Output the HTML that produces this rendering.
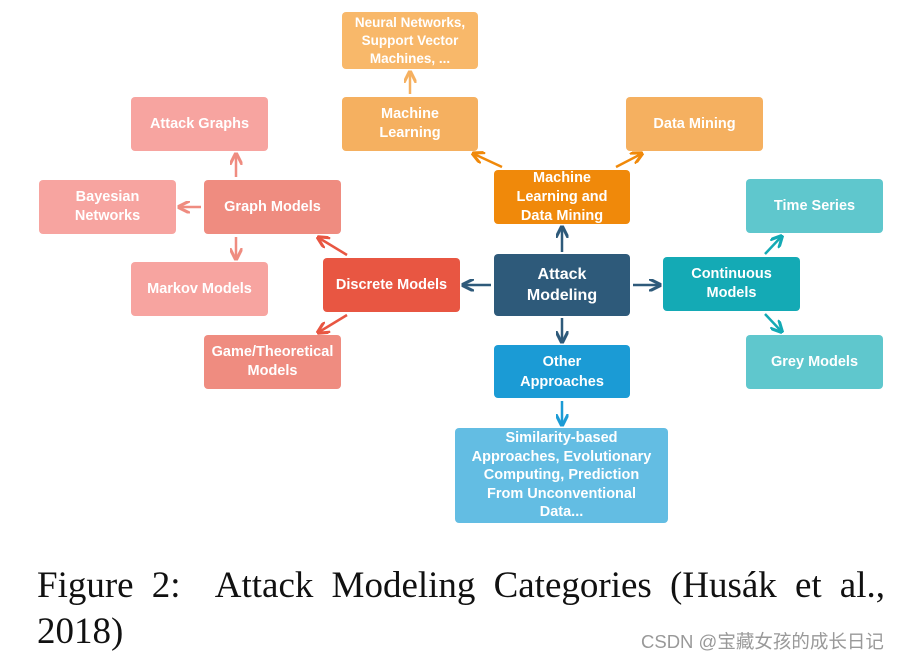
<!DOCTYPE html><html><head><style>
body{margin:0;width:908px;height:658px;background:#fff;position:relative;overflow:hidden;font-family:"Liberation Sans",Arial,sans-serif}
.b{position:absolute;border-radius:4px;color:#fff;font-weight:bold;font-size:14.5px;line-height:19px;display:flex;align-items:center;justify-content:center;text-align:center}
.cap{position:absolute;left:37px;font-family:"Liberation Serif",serif;font-size:37px;color:#111;white-space:nowrap}
</style></head><body>
<svg width="908" height="560" style="position:absolute;left:0;top:0">
<defs>
<marker id="o" viewBox="0 0 10 10" refX="8" refY="5" markerWidth="5" markerHeight="5" orient="auto"><path d="M0,0L10,5L0,10" fill="none" stroke="#f0890a" stroke-width="2.5"/></marker>
<marker id="lo" viewBox="0 0 10 10" refX="8" refY="5" markerWidth="5" markerHeight="5" orient="auto"><path d="M0,0L10,5L0,10" fill="none" stroke="#f5b060" stroke-width="2.5"/></marker>
<marker id="d" viewBox="0 0 10 10" refX="8" refY="5" markerWidth="5" markerHeight="5" orient="auto"><path d="M0,0L10,5L0,10" fill="none" stroke="#2e5a7a" stroke-width="2.5"/></marker>
<marker id="r" viewBox="0 0 10 10" refX="8" refY="5" markerWidth="5" markerHeight="5" orient="auto"><path d="M0,0L10,5L0,10" fill="none" stroke="#e85642" stroke-width="2.5"/></marker>
<marker id="p" viewBox="0 0 10 10" refX="8" refY="5" markerWidth="5" markerHeight="5" orient="auto"><path d="M0,0L10,5L0,10" fill="none" stroke="#ef8c80" stroke-width="2.5"/></marker>
<marker id="t" viewBox="0 0 10 10" refX="8" refY="5" markerWidth="5" markerHeight="5" orient="auto"><path d="M0,0L10,5L0,10" fill="none" stroke="#14aab5" stroke-width="2.5"/></marker>
<marker id="bl" viewBox="0 0 10 10" refX="8" refY="5" markerWidth="5" markerHeight="5" orient="auto"><path d="M0,0L10,5L0,10" fill="none" stroke="#1b9bd5" stroke-width="2.5"/></marker>
</defs>
<g stroke-width="2.5" fill="none">
<line x1="562" y1="252" x2="562" y2="228" stroke="#2e5a7a" marker-end="url(#d)"/>
<line x1="562" y1="318" x2="562" y2="341" stroke="#2e5a7a" marker-end="url(#d)"/>
<line x1="491" y1="285" x2="464" y2="285" stroke="#2e5a7a" marker-end="url(#d)"/>
<line x1="633" y1="285" x2="659" y2="285" stroke="#2e5a7a" marker-end="url(#d)"/>
<line x1="502" y1="167" x2="474" y2="154" stroke="#f0890a" marker-end="url(#o)"/>
<line x1="616" y1="167" x2="641" y2="154" stroke="#f0890a" marker-end="url(#o)"/>
<line x1="410" y1="94" x2="410" y2="73" stroke="#f5b060" marker-end="url(#lo)"/>
<line x1="347" y1="255" x2="319" y2="238" stroke="#e85642" marker-end="url(#r)"/>
<line x1="347" y1="315" x2="319" y2="332" stroke="#e85642" marker-end="url(#r)"/>
<line x1="236" y1="177" x2="236" y2="155" stroke="#ef8c80" marker-end="url(#p)"/>
<line x1="236" y1="237" x2="236" y2="258" stroke="#ef8c80" marker-end="url(#p)"/>
<line x1="201" y1="207" x2="180" y2="207" stroke="#ef8c80" marker-end="url(#p)"/>
<line x1="765" y1="254" x2="781" y2="237" stroke="#14aab5" marker-end="url(#t)"/>
<line x1="765" y1="314" x2="781" y2="331" stroke="#14aab5" marker-end="url(#t)"/>
<line x1="562" y1="401" x2="562" y2="424" stroke="#1b9bd5" marker-end="url(#bl)"/>
</g></svg>
<div class="b" style="left:342px;top:12px;width:136px;height:57px;background:#f8b86a;font-size:13.5px;line-height:18px">Neural Networks,<br>Support Vector<br>Machines, ...</div>
<div class="b" style="left:342px;top:97px;width:136px;height:54px;background:#f5b060">Machine<br>Learning</div>
<div class="b" style="left:626px;top:97px;width:137px;height:54px;background:#f5b060">Data Mining</div>
<div class="b" style="left:494px;top:170px;width:136px;height:54px;background:#f0890a;line-height:19px">Machine<br>Learning and<br>Data Mining</div>
<div class="b" style="left:131px;top:97px;width:137px;height:54px;background:#f7a4a0">Attack Graphs</div>
<div class="b" style="left:39px;top:180px;width:137px;height:54px;background:#f7a4a0">Bayesian<br>Networks</div>
<div class="b" style="left:204px;top:180px;width:137px;height:54px;background:#ef8c80">Graph Models</div>
<div class="b" style="left:131px;top:262px;width:137px;height:54px;background:#f7a4a0">Markov Models</div>
<div class="b" style="left:323px;top:258px;width:137px;height:54px;background:#e85642">Discrete Models</div>
<div class="b" style="left:204px;top:335px;width:137px;height:54px;background:#ef8c80">Game/Theoretical<br>Models</div>
<div class="b" style="left:494px;top:254px;width:136px;height:62px;background:#2e5a7a;font-size:16px;line-height:21px">Attack<br>Modeling</div>
<div class="b" style="left:663px;top:257px;width:137px;height:54px;background:#14aab5">Continuous<br>Models</div>
<div class="b" style="left:746px;top:179px;width:137px;height:54px;background:#5fc7cd">Time Series</div>
<div class="b" style="left:746px;top:335px;width:137px;height:54px;background:#5fc7cd">Grey Models</div>
<div class="b" style="left:494px;top:345px;width:136px;height:53px;background:#1b9bd5;line-height:20px">Other<br>Approaches</div>
<div class="b" style="left:455px;top:428px;width:213px;height:95px;background:#63bde3;line-height:18.5px">Similarity-based<br>Approaches, Evolutionary<br>Computing, Prediction<br>From Unconventional<br>Data...</div>
<div class="cap" style="top:564px;width:848px;text-align:justify;text-align-last:justify">Figure 2:&nbsp; Attack Modeling Categories (Husák et al.,</div>
<div class="cap" style="top:610px">2018)</div>
<div style="position:absolute;left:641px;top:628px;font-size:18.5px;color:#999;font-family:'Liberation Sans','Noto Sans CJK SC',sans-serif">CSDN @宝藏女孩的成长日记</div>
</body></html>
